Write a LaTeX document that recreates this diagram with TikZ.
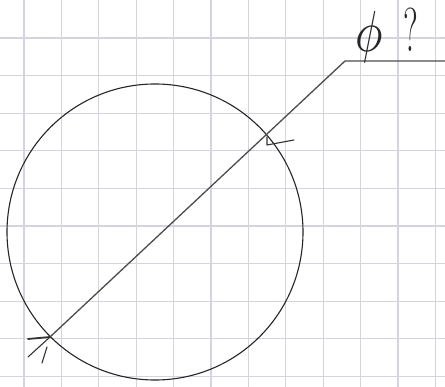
\documentclass[tikz,border=0pt]{standalone}
\begin{document}
\begin{tikzpicture}[x=1pt,y=-1pt,
  gridline/.style={draw={rgb,255:red,212;green,212;blue,224},line width=1.2pt},
  pen/.style={draw=black!85,line width=1.1pt},
  ray/.style={draw=black!70,line width=1.3pt},
  tick/.style={draw=black!80,line width=1.1pt,line cap=round,line join=round},
  lbl/.style={inner sep=0pt,text=black!85}]
\useasboundingbox (0,0) rectangle (445,387);
\fill[white] (0,0) rectangle (445,387);
% grid
\foreach \k in {0,...,11} {\draw[gridline] ({24+37.4*\k},0) -- ({24+37.4*\k},387);}
\foreach \k in {0,...,9} {\draw[gridline] (0,{38+37.6*\k}) -- (445,{38+37.6*\k});}
% circle
\coordinate (c) at (155,232);
\draw[pen] (c) circle [radius=148];
% ray
\coordinate (a) at (50,337);
\coordinate (b) at (345,61);
\coordinate (e) at (445,61);
\draw[ray] (a) -- (b) -- (e);
% marks
\coordinate (m1) at (267,137);
\coordinate (m2) at (267,145);
\coordinate (m3) at (294,140);
\draw[tick] (m1) -- (m2) -- (m3);
\coordinate (p1) at (28,339);
\coordinate (p2) at (28,357);
\coordinate (p3) at (42,363);
\coordinate (p4) at (47,347);
\draw[tick,line width=1.8pt] (p1) -- (a);
\draw[tick] (p2) -- (a);
\draw[tick] (p3) -- (p4);
% labels
\node[lbl,xscale=4.6,yscale=5.8] (phi) at (369,37) {$\phi$};
\node[lbl,xscale=0.55,font=\fontsize{62}{62}\selectfont] (q) at (411,30) {?};
\end{tikzpicture}
\end{document}
